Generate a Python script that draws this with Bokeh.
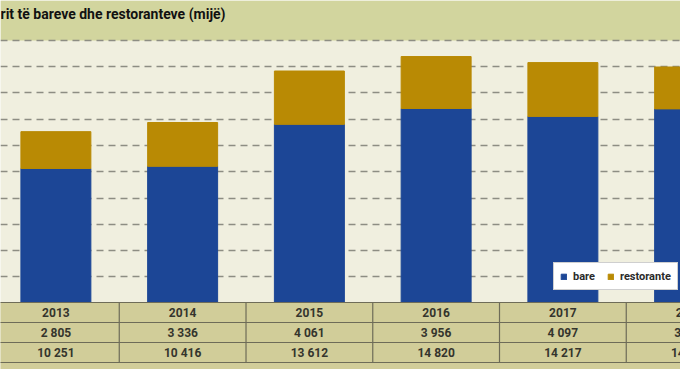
from bokeh.plotting import figure
from bokeh.models import Range1d, ColumnDataSource, Grid, FixedTicker, Label, BoxAnnotation
from bokeh.core.properties import value
from bokeh.embed import file_html
from bokeh.resources import INLINE

# ---- data ----
years = ["2013", "2014", "2015", "2016", "2017", "2018"]
restorante = [2805, 3336, 4061, 3956, 4097, 3190]
bare = [10251, 10416, 13612, 14820, 14217, 14790]
grid_values = [2000, 4000, 6000, 8000, 10000, 12000, 14000, 16000, 18000, 20000]
title_text = "rit të bareve dhe restoranteve (mijë)"
series_labels = ["bare", "restorante"]

# ---- styles ----
BLUE = "#1c4696"
GOLD = "#b98a04"
CREAM = "#f0efdf"
HEADER = "#d2d59e"
TABLE = "#d1cd99"
LINE = "#6e6c58"
TXT = "#35352d"
FONT = "Roboto"

x_idx = list(range(len(years)))
fmt = lambda v: f"{v:,}".replace(",", " ")

src = ColumnDataSource(dict(x=x_idx, bare=bare, restorante=restorante))

p = figure(width=680, height=369, output_backend="svg", toolbar_location=None,
           x_range=Range1d(-0.437, 4.928), y_range=Range1d(-5056, 23043),
           x_axis_location=None, y_axis_location=None, min_border=0,
           background_fill_color=CREAM, border_fill_color=CREAM, outline_line_color=None)
p.grid.visible = False
p.extra_y_ranges = {"tbl": Range1d(start=3.35, end=-15.1)}

# header band above the 20000 line
p.add_layout(BoxAnnotation(bottom=grid_values[-1], fill_color=HEADER, fill_alpha=1,
                           line_color=None, level="image"))

# dashed grid
p.add_layout(Grid(dimension=1, ticker=FixedTicker(ticks=grid_values),
                  grid_line_color="#8d8d83", grid_line_dash="7 5", grid_line_width=1.6))

# stacked bars
p.vbar_stack(["bare", "restorante"], x="x", width=0.552, color=[BLUE, GOLD],
             source=src, legend_label=series_labels)

# table
nrows = 3
p.quad(left=-1, right=6, top=0, bottom=3.35, y_range_name="tbl",
       fill_color=TABLE, line_color=None)
p.segment(x0=-1, x1=6, y0=list(range(nrows + 1)), y1=list(range(nrows + 1)),
          y_range_name="tbl", line_color=LINE, line_width=1.2)
seps = [i + 0.5 for i in x_idx[:-1]]
p.segment(x0=seps, x1=seps, y0=0, y1=nrows, y_range_name="tbl",
          line_color=LINE, line_width=1.2)

rows = [years, [fmt(v) for v in restorante], [fmt(v) for v in bare]]
for r, labels in enumerate(rows):
    p.text(x=x_idx, y=[r + 0.5] * len(x_idx), text=labels, y_range_name="tbl",
           text_align="center", text_baseline="middle", text_font=value(FONT),
           text_font_size="12px", text_font_style="bold", text_color=TXT)

# title
p.add_layout(Label(x=0, y=356, x_units="screen", y_units="screen", text=title_text,
                   text_font=FONT, text_font_size="14px", text_font_style="bold",
                   text_color="#111111", text_baseline="alphabetic"))

# legend
lg = p.legend[0]
lg.location = (553, 79)
lg.orientation = "horizontal"
lg.background_fill_color = "white"
lg.background_fill_alpha = 1
lg.border_line_color = "#a0a0a0"
lg.border_line_width = 1
lg.glyph_width = 7
lg.glyph_height = 7
lg.label_standoff = 6
lg.spacing = 12
lg.padding = 6
lg.margin = 0
lg.label_height = 14
lg.label_text_font = FONT
lg.label_text_font_size = "11px"
lg.label_text_font_style = "bold"
lg.label_text_color = "#2a2a2a"

open("out.html", "w").write(file_html(p, INLINE))
